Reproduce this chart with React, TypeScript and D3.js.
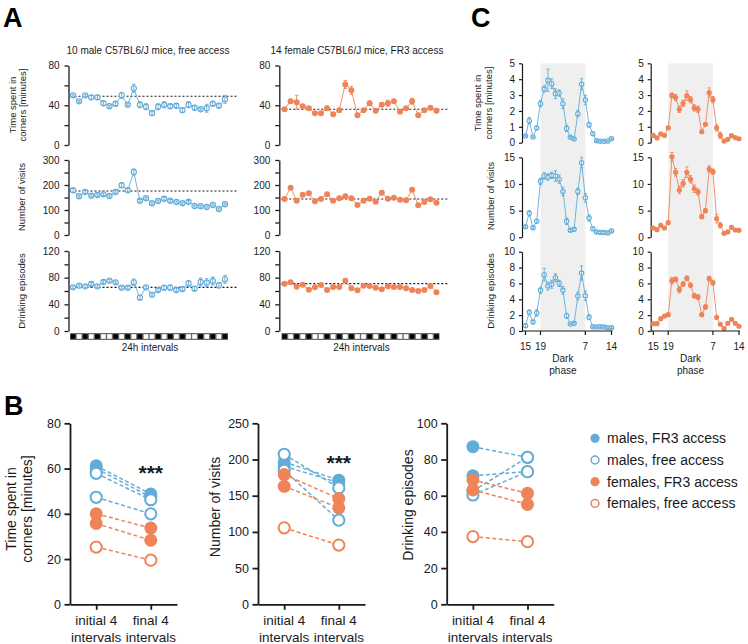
import { useEffect, useRef } from "react";
import * as d3 from "d3";

const width = 748, height = 644;
const FONT = "'Liberation Sans', Arial, Helvetica, sans-serif";
const BLUE = "#63acd9";
const ORANGE = "#ee8458";
const INK = "#1a1a1a";

// ---------- panel A: 26 daily (24h) intervals ----------
const intervals = [1, 2, 3, 4, 5, 6, 7, 8, 9, 10, 11, 12, 13, 14, 15, 16, 17, 18, 19, 20, 21, 22, 23, 24, 25, 26];
// 1 = black cell, 0 = white cell in the schedule bar
const cellPattern = [1, 0, 1, 0, 1, 0, 0, 1, 0, 1, 0, 1, 0, 0, 1, 0, 1, 0, 1, 0, 0, 1, 0, 1, 0, 1];

// 10 male mice, free access
const timeMale = [50, 44, 50, 48, 48, 42, 39, 41.5, 50, 40.5, 57, 40.5, 38.5, 32, 38.5, 40.5, 39, 39.5, 35, 40.5, 37.5, 36, 37, 41.5, 39.5, 46];
const timeMaleErr = [1, 1, 1, 2, 2, 2, 1, 2, 3, 1, 4, 3, 3, 2, 3, 3, 2, 2, 2, 3, 2, 1, 4, 2, 2, 4];
const visitsMale = [179, 155, 172, 157, 160, 163, 156, 172, 199, 179, 252, 137, 147, 127, 136, 145, 137, 132, 127, 133, 116, 115, 112, 120, 104, 123];
const visitsMaleErr = [8, 4, 5, 4, 5, 5, 4, 5, 9, 6, 12, 5, 4, 4, 4, 6, 5, 4, 4, 5, 4, 4, 4, 4, 4, 4];
const drinkMale = [65.5, 68, 67, 70.5, 67, 73.5, 75.5, 73, 65, 65, 73, 50, 65.5, 54.5, 61.5, 65, 65, 61.5, 63, 71.5, 63.5, 73.5, 72.5, 75, 68.5, 77.5];
const drinkMaleErr = [2, 2, 2, 2, 2, 2, 2, 2, 2, 2, 5, 3, 2, 2, 2, 3, 4, 3, 3, 4, 3, 6, 6, 6, 4, 6];
const baseMale = [49, 176, 65.5];

// 14 female mice, FR3 access
const timeFem = [36, 44, 43, 39, 37, 32, 32, 37, 31, 35, 61, 55, 30, 35, 42, 34.5, 40.5, 42, 44, 33.5, 37, 44, 30, 35, 37.5, 34.5];
const timeFemErr = [1, 1, 7, 1, 1, 1, 1, 2, 1, 1, 4, 4, 1, 1, 2, 1, 1, 3, 1, 1, 1, 3, 1, 1, 1, 1];
const visitsFem = [144, 189, 137, 161, 167, 135, 144, 163, 137, 147, 155, 147, 120, 137, 145, 133, 169, 145, 149, 141, 139, 181, 119, 132, 143, 129];
const visitsFemErr = [3, 4, 3, 3, 4, 3, 3, 6, 3, 3, 5, 3, 3, 3, 3, 3, 8, 3, 3, 3, 3, 7, 3, 3, 4, 4];
const drinkFem = [71, 73, 66.5, 69.5, 62, 65.5, 69, 61.5, 66, 66, 75.5, 64, 61, 68, 67.5, 65, 62.5, 67, 66, 66, 64, 61.5, 60, 61.5, 67.5, 58];
const drinkFemErr = [1, 1, 1, 1, 1, 1, 2, 1, 1, 1, 2, 1, 1, 1, 1, 1, 1, 1, 1, 1, 1, 1, 1, 1, 1, 1];
const baseFem = [36, 144, 71];

// ---------- panel C: hourly profile ----------
const hours = [15, 16, 17, 18, 19, 20, 21, 22, 23, 0, 1, 2, 3, 4, 5, 6, 7, 8, 9, 10, 11, 12, 13, 14];
const hourTicks = [15, 19, 7, 14];
const darkStart = 19, darkEnd = 7;

const cTimeMale = [0.42, 1.39, 0.36, 0.93, 2.46, 3.38, 3.93, 3.72, 3.09, 3.13, 2.46, 0.9, 0.34, 0.23, 1.83, 3.68, 2.69, 1.13, 0.57, 0.13, 0.09, 0.09, 0.11, 0.25];
const cTimeMaleErr = [0.05, 0.2, 0.05, 0.1, 0.2, 0.2, 0.7, 0.3, 0.3, 0.2, 0.3, 0.2, 0.05, 0.05, 0.2, 0.35, 0.3, 0.15, 0.1, 0.05, 0.05, 0.05, 0.05, 0.05];
const cVisitsMale = [2.0, 4.5, 1.8, 3.0, 10.5, 11.5, 11.3, 11.6, 11.5, 10.9, 8.6, 3.0, 1.3, 1.5, 8.6, 14.0, 7.4, 3.6, 1.6, 1.0, 0.9, 0.9, 0.8, 1.2];
const cVisitsMaleErr = [0.2, 0.5, 0.2, 0.3, 0.6, 0.6, 0.6, 0.6, 1.0, 0.8, 0.8, 0.6, 0.2, 0.2, 0.6, 1.0, 0.8, 0.6, 0.3, 0.2, 0.2, 0.2, 0.2, 0.2];
const cDrinkMale = [0.67, 2.35, 1.13, 2.27, 5.13, 7.1, 5.67, 5.89, 6.72, 6.01, 5.13, 1.93, 0.88, 0.97, 4.41, 7.31, 4.45, 1.73, 0.55, 0.5, 0.55, 0.5, 0.42, 0.42];
const cDrinkMaleErr = [0.2, 0.3, 0.2, 0.4, 0.4, 0.8, 0.5, 0.5, 0.5, 0.4, 0.5, 0.3, 0.1, 0.1, 0.5, 0.9, 0.6, 0.3, 0.1, 0.1, 0.1, 0.1, 0.1, 0.1];

const cTimeFem = [0.46, 0.3, 0.55, 0.46, 0.93, 2.98, 2.84, 2.1, 2.48, 2.96, 2.71, 2.19, 2.1, 0.69, 1.16, 3.15, 2.71, 0.93, 0.46, 0.1, 0.21, 0.44, 0.32, 0.25];
const cTimeFemErr = [0.05, 0.05, 0.05, 0.05, 0.1, 0.15, 0.2, 0.2, 0.2, 0.3, 0.2, 0.2, 0.2, 0.1, 0.1, 0.3, 0.2, 0.2, 0.2, 0.05, 0.05, 0.05, 0.05, 0.05];
const cVisitsFem = [1.74, 1.43, 2.25, 1.74, 2.74, 15.1, 12.2, 8.87, 10.1, 12.2, 10.9, 9.1, 8.5, 3.87, 5.0, 12.8, 12.3, 3.49, 2.25, 0.75, 1.0, 1.87, 1.37, 1.3];
const cVisitsFemErr = [0.2, 0.2, 0.2, 0.2, 0.3, 0.8, 0.7, 0.7, 0.7, 1.0, 0.7, 0.7, 0.6, 0.4, 0.4, 0.6, 0.5, 0.8, 0.5, 0.1, 0.2, 0.2, 0.2, 0.2];
const cDrinkFem = [0.92, 0.92, 1.55, 1.89, 2.06, 6.34, 6.51, 5.21, 5.93, 6.64, 5.76, 4.45, 4.29, 2.06, 3.03, 6.6, 6.1, 1.73, 0.85, 0.3, 0.97, 1.47, 0.97, 0.6];
const cDrinkFemErr = [0.1, 0.1, 0.1, 0.2, 0.2, 0.4, 0.3, 0.4, 0.3, 0.3, 0.3, 0.3, 0.3, 0.2, 0.3, 0.3, 0.3, 0.2, 0.1, 0.1, 0.1, 0.1, 0.1, 0.1];

// ---------- panel B: initial vs final 4 intervals ----------
const phases = ["initial 4|intervals", "final 4|intervals"];
const bGroups = ["males, FR3 access", "males, FR3 access", "males, free access", "males, free access", "females, FR3 access", "females, FR3 access", "females, free access"];
const bTimeInitial = [61.2, 60, 57.9, 47.3, 40, 35.7, 25.3];
const bTimeFinal = [48.8, 47.4, 46.2, 40, 33.7, 28.3, 19.5];
const bVisitsInitial = [196.6, 190.7, 207.2, 185, 179.2, 163, 105.6];
const bVisitsFinal = [171.4, 168, 160.8, 116.2, 146, 133.2, 81.8];
const bDrinkInitial = [87.1, 71, 62.6, 60.4, 68.7, 63.2, 37.4];
const bDrinkFinal = [81.2, 73.3, 81.2, 73.3, 61.3, 55.2, 34.6];
const legendItems = ["males, FR3 access", "males, free access", "females, FR3 access", "females, free access"];

const groupColor = (n: string) => (n.startsWith("males") ? BLUE : ORANGE);
const groupFilled = (n: string) => n.includes("FR3");

type G = d3.Selection<SVGGElement, unknown, null, undefined>;

function leftAxis(parent: G, y: d3.ScaleLinear<number, number>, x: number, ticks: number[], labels: number[],
  o: { fs: number; tick: number; pad: number; sw: number }) {
  const g = parent.append("g").attr("transform", `translate(${x},0)`)
    .call(d3.axisLeft(y).tickValues(ticks).tickSize(o.tick).tickSizeOuter(0).tickPadding(o.pad)
      .tickFormat((d) => (labels.includes(+d) ? String(d) : "")));
  g.attr("font-family", FONT).attr("font-size", o.fs);
  g.selectAll("path, line").attr("stroke", INK).attr("stroke-width", o.sw);
  g.selectAll("text").attr("fill", INK);
  return g;
}

function plotSeries(parent: G, xs: number[], ys: number[], errs: number[], y: d3.ScaleLinear<number, number>,
  color: string, filled: boolean, r: number, cap: number) {
  const g = parent.append("g");
  g.append("path")
    .attr("d", d3.line()(xs.map((x, i) => [x, y(ys[i])] as [number, number])))
    .attr("fill", "none").attr("stroke", color).attr("stroke-width", 0.9);
  g.selectAll("circle").data(ys).join("circle")
    .attr("cx", (_, i) => xs[i]).attr("cy", (d) => y(d))
    .attr("r", filled ? r + 0.4 : r)
    .attr("fill", filled ? color : "#fff")
    .attr("stroke", filled ? "none" : color).attr("stroke-width", 1.1);
  const eb = g.append("g").attr("stroke", color).attr("stroke-width", 0.9);
  ys.forEach((v, i) => {
    const x = xs[i], hi = y(v + errs[i]), lo = y(v - errs[i]);
    eb.append("line").attr("x1", x).attr("x2", x).attr("y1", lo).attr("y2", hi);
    eb.append("line").attr("x1", x - cap).attr("x2", x + cap).attr("y1", hi).attr("y2", hi);
    eb.append("line").attr("x1", x - cap).attr("x2", x + cap).attr("y1", lo).attr("y2", lo);
  });
}

function vText(parent: G, x: number, y: number, text: string, fs: number) {
  parent.append("text").attr("transform", `translate(${x},${y}) rotate(-90)`)
    .attr("text-anchor", "middle").attr("font-family", FONT).attr("font-size", fs).attr("fill", INK)
    .text(text);
}

const App = () => {
  const ref = useRef<SVGSVGElement>(null);

  useEffect(() => {
    const svg = d3.select(ref.current);
    svg.selectAll("*").remove();
    const root = svg.append("g") as unknown as G;

    const bigLabel = (t: string, x: number, y: number) =>
      root.append("text").attr("x", x).attr("y", y).attr("font-family", FONT).attr("font-weight", "bold")
        .attr("font-size", 27).attr("fill", "#000").text(t);
    bigLabel("A", 3, 27);
    bigLabel("B", 4, 415);
    bigLabel("C", 471, 27);

    // ================= A =================
    const aRows = [
      { y: d3.scaleLinear().domain([0, 80]).range([145, 65.5]), ticks: [0, 20, 40, 60, 80], labels: [0, 40, 80] },
      { y: d3.scaleLinear().domain([0, 300]).range([235, 160]), ticks: [0, 50, 100, 150, 200, 250, 300], labels: [0, 100, 200, 300] },
      { y: d3.scaleLinear().domain([0, 120]).range([331, 251]), ticks: [0, 20, 40, 60, 80, 100, 120], labels: [0, 40, 80, 120] },
    ];
    const aCols = [
      { axisX: 68.5, x0: 70, titleX: 148, title: "10 male C57BL6/J mice, free access", color: BLUE, filled: false,
        vals: [timeMale, visitsMale, drinkMale], errs: [timeMaleErr, visitsMaleErr, drinkMaleErr], base: baseMale },
      { axisX: 279.3, x0: 281.5, titleX: 357, title: "14 female C57BL6/J mice, FR3 access", color: ORANGE, filled: true,
        vals: [timeFem, visitsFem, drinkFem], errs: [timeFemErr, visitsFemErr, drinkFemErr], base: baseFem },
    ];
    aCols.forEach((c) => {
      const x = d3.scaleBand<number>().domain(intervals).range([c.x0, c.x0 + 158]);
      const xs = intervals.map((i) => (x(i) as number) + x.bandwidth() / 2);
      root.append("text").attr("x", c.titleX).attr("y", 54).attr("text-anchor", "middle")
        .attr("font-family", FONT).attr("font-size", 10).attr("fill", INK).text(c.title);
      aRows.forEach((r, ri) => {
        leftAxis(root, r.y, c.axisX, r.ticks, r.labels, { fs: 10, tick: 4, pad: 5, sw: 1.3 });
        root.append("line").attr("x1", c.axisX + 2).attr("x2", c.x0 + 167)
          .attr("y1", r.y(c.base[ri])).attr("y2", r.y(c.base[ri]))
          .attr("stroke", INK).attr("stroke-width", 1.1).attr("stroke-dasharray", "2,2");
        plotSeries(root, xs, c.vals[ri], c.errs[ri], r.y, c.color, c.filled, 2.6, 1.8);
      });
      // schedule bar
      const bar = root.append("g");
      bar.append("rect").attr("x", c.x0).attr("y", 333).attr("width", 158).attr("height", 7).attr("fill", "#6a6a6a");
      bar.selectAll("rect.cell").data(intervals).join("rect").attr("class", "cell")
        .attr("x", (d) => (x(d) as number) + 0.7).attr("y", 334.2)
        .attr("width", x.bandwidth() - 1.4).attr("height", 4.6)
        .attr("fill", (_, i) => (cellPattern[i] ? "#000" : "#fff"));
      root.append("text").attr("x", c.x0 + 80).attr("y", 351).attr("text-anchor", "middle")
        .attr("font-family", FONT).attr("font-size", 10).attr("fill", INK).text("24h intervals");
    });
    vText(root, 15.5, 105, "Time spent in", 9.5);
    vText(root, 25.5, 105, "corners [minutes]", 9.5);
    vText(root, 25, 197, "Number of visits", 9.5);
    vText(root, 25, 291, "Drinking episodes", 9.5);

    // ================= C =================
    const cRows = [
      { y: d3.scaleLinear().domain([0, 5]).range([142.7, 63.3]), ticks: [0, 1, 2, 3, 4, 5] },
      { y: d3.scaleLinear().domain([0, 15]).range([237.3, 157.3]), ticks: [0, 5, 10, 15] },
      { y: d3.scaleLinear().domain([0, 10]).range([331, 251.7]), ticks: [0, 2, 4, 6, 8, 10] },
    ];
    const cCols = [
      { axisX: 522, range: [525.5, 611.5], color: BLUE, filled: false,
        vals: [cTimeMale, cVisitsMale, cDrinkMale], errs: [cTimeMaleErr, cVisitsMaleErr, cDrinkMaleErr] },
      { axisX: 650.7, range: [653.3, 739], color: ORANGE, filled: true,
        vals: [cTimeFem, cVisitsFem, cDrinkFem], errs: [cTimeFemErr, cVisitsFemErr, cDrinkFemErr] },
    ];
    cCols.forEach((c) => {
      const x = d3.scalePoint<string>().domain(hours.map(String)).range(c.range as [number, number]);
      const xs = hours.map((h) => x(String(h)) as number);
      const xd0 = x(String(darkStart)) as number, xd1 = x(String(darkEnd)) as number;
      root.append("rect").attr("x", xd0).attr("y", 63.3).attr("width", xd1 - xd0).attr("height", 331 - 63.3)
        .attr("fill", "#efefef");
      cRows.forEach((r, ri) => {
        leftAxis(root, r.y, c.axisX, r.ticks, r.ticks, { fs: 10, tick: 3, pad: 4, sw: 1.2 });
        plotSeries(root, xs, c.vals[ri], c.errs[ri], r.y, c.color, c.filled, 2.2, 1.6);
      });
      const xa = root.append("g").attr("transform", "translate(0,331)");
      xa.append("line").attr("x1", c.axisX).attr("x2", c.range[1] + 1).attr("stroke", INK).attr("stroke-width", 1.2);
      hourTicks.forEach((h) => {
        const px = x(String(h)) as number;
        xa.append("line").attr("x1", px).attr("x2", px).attr("y1", 0).attr("y2", 4).attr("stroke", INK).attr("stroke-width", 1.2);
        xa.append("text").attr("x", px).attr("y", 19).attr("text-anchor", "middle")
          .attr("font-family", FONT).attr("font-size", 10).attr("fill", INK).text(String(h));
      });
      ["Dark", "phase"].forEach((t, i) =>
        root.append("text").attr("x", (xd0 + xd1) / 2).attr("y", 362 + i * 12).attr("text-anchor", "middle")
          .attr("font-family", FONT).attr("font-size", 10).attr("fill", INK).text(t));
    });
    vText(root, 481, 103, "Time spent in", 9.5);
    vText(root, 492, 103, "corners [minutes]", 9.5);
    vText(root, 494, 196, "Number of visits", 9.5);
    vText(root, 494, 291, "Drinking episodes", 9.5);

    // ================= B =================
    const bPanels = [
      { axisX: 70, y: d3.scaleLinear().domain([0, 80]).range([604.3, 423.3]), ticks: [0, 20, 40, 60, 80],
        init: bTimeInitial, fin: bTimeFinal, stars: true, titles: [["Time spent in", 16], ["corners [minutes]", 32]], ty: 509 },
      { axisX: 258, y: d3.scaleLinear().domain([0, 250]).range([604.3, 423.3]), ticks: [0, 50, 100, 150, 200, 250],
        init: bVisitsInitial, fin: bVisitsFinal, stars: true, titles: [["Number of visits", 220]], ty: 507 },
      { axisX: 446.7, y: d3.scaleLinear().domain([0, 100]).range([604.3, 423.3]), ticks: [0, 20, 40, 60, 80, 100],
        init: bDrinkInitial, fin: bDrinkFinal, stars: false, titles: [["Drinking episodes", 413]], ty: 505 },
    ];
    bPanels.forEach((p) => {
      const x = d3.scalePoint<string>().domain(phases).range([p.axisX, p.axisX + 107]).padding(0.48);
      const x0 = x(phases[0]) as number, x1 = x(phases[1]) as number;
      leftAxis(root, p.y, p.axisX, p.ticks, p.ticks, { fs: 12.5, tick: 5.5, pad: 3.5, sw: 1.8 });
      const xa = root.append("g").attr("transform", "translate(0,604.3)")
        .call(d3.axisBottom(x).tickSize(5.5).tickSizeOuter(0).tickFormat(() => ""));
      xa.selectAll("path, line").attr("stroke", INK).attr("stroke-width", 1.8);
      phases.forEach((ph) => {
        ph.split("|").forEach((t, li) =>
          root.append("text").attr("x", x(ph) as number).attr("y", 625 + li * 16.5).attr("text-anchor", "middle")
            .attr("font-family", FONT).attr("font-size", 13.5).attr("fill", INK).text(t));
      });
      p.titles.forEach(([t, bx]) => vText(root, bx as number, p.ty, t as string, 14));
      // connecting dashed lines
      bGroups.forEach((gname, i) => {
        root.append("line").attr("x1", x0).attr("x2", x1).attr("y1", p.y(p.init[i])).attr("y2", p.y(p.fin[i]))
          .attr("stroke", groupColor(gname)).attr("stroke-width", 1.5).attr("stroke-dasharray", "4,2.5");
      });
      bGroups.forEach((gname, i) => {
        const col = groupColor(gname), filled = groupFilled(gname);
        [[x0, p.init[i]], [x1, p.fin[i]]].forEach(([cx, v]) =>
          root.append("circle").attr("cx", cx).attr("cy", p.y(v)).attr("r", filled ? 6.5 : 5.6)
            .attr("fill", filled ? col : "#fff").attr("stroke", filled ? "none" : col).attr("stroke-width", 2));
      });
      if (p.stars)
        root.append("text").attr("x", x1).attr("y", p.y(p.init[0]) > 0 ? (p.axisX < 100 ? 480 : 470) : 470)
          .attr("text-anchor", "middle").attr("font-family", FONT).attr("font-weight", "bold")
          .attr("font-size", 21).attr("fill", INK).text("***");
    });

    // legend
    legendItems.forEach((name, i) => {
      const cy = 438.3 + i * 21.7;
      const col = groupColor(name), filled = groupFilled(name);
      root.append("circle").attr("cx", 595).attr("cy", cy).attr("r", filled ? 4.6 : 3.9)
        .attr("fill", filled ? col : "#fff").attr("stroke", filled ? "none" : col).attr("stroke-width", 1.5);
      root.append("text").attr("x", 607).attr("y", cy + 5).attr("font-family", FONT).attr("font-size", 14)
        .attr("fill", INK).text(name);
    });

    return () => { svg.selectAll("*").remove(); };
  }, []);

  return (
    <div style={{ position: "absolute", left: 0, top: 0 }}>
      <svg ref={ref} width={width} height={height} viewBox={`0 0 ${width} ${height}`}
        style={{ display: "block", background: "#fff" }} />
    </div>
  );
};

export default App;
